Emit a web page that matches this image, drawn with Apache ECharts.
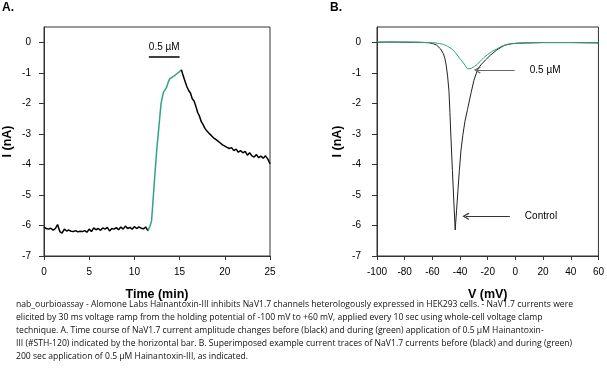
<!DOCTYPE html>
<html><head><meta charset="utf-8">
<script src="https://cdn.jsdelivr.net/npm/echarts@6/dist/echarts.min.js"></script>
<style>html,body{margin:0;padding:0;background:#fff}#c{width:607px;height:373px}</style>
</head><body><div id="c"></div>
<script>
// ---- Panel A: time course ----
const preTime = [0,0.25,0.5,0.75,1,1.25,1.5,1.75,2,2.25,2.5,2.75,3,3.25,3.5,3.75,4,4.25,4.5,4.75,5,5.25,5.5,5.75,6,6.25,6.5,6.75,7,7.25,7.5,7.75,8,8.25,8.5,8.75,9,9.25,9.5,9.75,10,10.25,10.5,10.75,11,11.25,11.5];
const preCurrent = [-6.05,-6.10,-6.12,-6.09,-6.15,-6.10,-5.97,-6.20,-6.25,-6.12,-6.18,-6.15,-6.19,-6.20,-6.17,-6.21,-6.19,-6.20,-6.17,-6.22,-6.12,-6.20,-6.08,-6.14,-6.10,-6.16,-6.08,-6.12,-6.06,-6.18,-6.10,-6.12,-6.07,-6.14,-6.05,-6.12,-6.02,-6.10,-6.06,-6.12,-6.04,-6.10,-6.05,-6.09,-6.11,-6.05,-6.18];
const drugTime = [11.5,11.75,11.9,12.2,12.45,12.7,12.95,13.2,13.4,13.55,13.75,13.9,14.1,14.4,14.7,15.0,15.2];
const drugCurrent = [-6.18,-6.0,-5.85,-4.6,-3.6,-2.8,-2.0,-1.65,-1.6,-1.48,-1.3,-1.2,-1.17,-1.1,-1.03,-0.96,-0.9];
const washTime = [15.2,15.4,15.6,15.8,16.0,16.2,16.4,16.6,16.8,17.0,17.2,17.4,17.6,17.8,18.0,18.25,18.5,18.75,19.0,19.25,19.5,19.75,20.0,20.25,20.5,20.75,21.0,21.25,21.5,21.75,22.0,22.25,22.5,22.75,23.0,23.25,23.5,23.75,24.0,24.25,24.5,24.75,25.0];
const washCurrent = [-0.9,-1.1,-1.28,-1.45,-1.58,-1.66,-1.85,-1.92,-2.1,-2.3,-2.42,-2.6,-2.7,-2.82,-2.9,-2.98,-3.05,-3.13,-3.18,-3.24,-3.3,-3.36,-3.4,-3.44,-3.48,-3.45,-3.55,-3.5,-3.6,-3.55,-3.62,-3.57,-3.7,-3.62,-3.72,-3.76,-3.68,-3.78,-3.73,-3.8,-3.72,-3.82,-3.98];
const barTime = [11.6, 15.0];
const barLevel = -0.49;
const barLabel = '0.5 µM';

// ---- Panel B: I-V traces ----
const controlV = [-100,-90,-80,-70,-65,-62,-60,-57,-54,-52,-51,-50,-49,-48,-47.3,-46.5,-45.5,-44.5,-43.5,-42.5,-41.5,-40.5,-39.3,-38,-36.5,-34.6,-32,-30,-27.5,-25,-21.6,-18,-13.4,-8,-3,2,20,40,60];
const controlI = [0,0.01,0,0,-0.01,-0.02,-0.04,-0.09,-0.22,-0.38,-0.52,-0.75,-1.1,-1.6,-2.3,-3.2,-4.2,-5.2,-6.15,-5.5,-4.85,-4.2,-3.53,-3.05,-2.6,-2.2,-1.65,-1.25,-0.92,-0.74,-0.58,-0.42,-0.25,-0.1,-0.05,-0.03,-0.01,-0.01,-0.02];
const toxinV = [-100,-90,-80,-70,-62,-58,-55,-52,-49,-46,-43.5,-41.5,-39.5,-37.5,-36,-34.6,-33.4,-32,-30,-27.5,-25,-22.8,-20,-17,-13.4,-10,-6,-2,5,20,40,60];
const toxinI = [0.01,0,0.01,0,-0.01,-0.02,-0.04,-0.07,-0.13,-0.22,-0.33,-0.45,-0.57,-0.68,-0.78,-0.87,-0.89,-0.86,-0.8,-0.72,-0.6,-0.5,-0.4,-0.3,-0.22,-0.13,-0.07,-0.04,-0.02,-0.01,-0.01,-0.02];
const toxinArrow = {fromV: -0.5, toV: -27.5, level: -0.91, text: '0.5 µM'};
const controlArrow = {fromV: -4, toV: -35.8, level: -5.7, text: 'Control'};

// ---- Ticks ----
const yTicks = [-7,-6,-5,-4,-3,-2,-1,0];
const timeTicks = [0,5,10,15,20,25];
const voltTicks = [-100,-80,-60,-40,-20,0,20,40,60];

const captionLines = [
 'nab_ourbioassay - Alomone Labs Hainantoxin-III inhibits NaV1.7 channels heterologously expressed in HEK293 cells. - NaV1.7 currents were',
 'elicited by 30 ms voltage ramp from the holding potential of -100 mV to +60 mV, applied every 10 sec using whole-cell voltage clamp',
 'technique. A. Time course of NaV1.7 current amplitude changes before (black) and during (green) application of 0.5 µM Hainantoxin-',
 'III (#STH-120) indicated by the horizontal bar. B. Superimposed example current traces of NaV1.7 currents before (black) and during (green)',
 '200 sec application of 0.5 µM Hainantoxin-III, as indicated.'
];

const zip = (a, b) => a.map((v, i) => [v, b[i]]);
const SANS = "'Liberation Sans',Arial,sans-serif";
const GREEN = '#2fa388';
const AXC = '#333';
const chevron = 'path://M5,0L10,8.6L8.8,10L5,3.4L1.2,10L0,8.6Z';

function xAx(idx, min, max, interval, name, ticks) {
  return {
    type: 'value', gridIndex: idx, min, max, interval,
    name, nameLocation: 'middle', nameGap: 32,
    nameTextStyle: {fontFamily: SANS, fontWeight: 'bold', fontSize: 12.5, color: '#000'},
    axisLine: {show: true, onZero: false, lineStyle: {color: AXC}},
    axisTick: {show: true, length: 4, lineStyle: {color: AXC}, customValues: ticks},
    axisLabel: {fontFamily: SANS, fontSize: 10, color: '#000', margin: 11, customValues: ticks},
    splitLine: {show: false}
  };
}
function yAx(idx, margin, gap) {
  return {
    type: 'value', gridIndex: idx, min: -7, max: 0.5, interval: 1,
    name: 'I (nA)', nameLocation: 'middle', nameGap: gap, nameRotate: 90,
    nameTextStyle: {fontFamily: SANS, fontWeight: 'bold', fontSize: 12.5, color: '#000'},
    axisLine: {show: true, onZero: false, lineStyle: {color: AXC}},
    axisTick: {show: true, length: 5, lineStyle: {color: AXC}, customValues: yTicks},
    axisLabel: {fontFamily: SANS, fontSize: 10, color: '#000', margin, customValues: yTicks},
    splitLine: {show: false}
  };
}

const chart = echarts.init(document.getElementById('c'), null, {renderer: 'canvas'});
chart.setOption({
  animation: false,
  backgroundColor: '#fff',
  grid: [
    {left: 44, top: 27, width: 226, height: 229, show: true, borderColor: AXC, borderWidth: 1, containLabel: false},
    {left: 377, top: 27, width: 227, height: 229, show: true, borderColor: AXC, borderWidth: 1, containLabel: false}
  ],
  xAxis: [
    xAx(0, 0, 25, 5, 'Time (min)', timeTicks),
    xAx(1, -100, 60, 20, 'V (mV)', voltTicks)
  ],
  yAxis: [yAx(0, 13, 30), yAx(1, 16, 33)],
  series: [
    {type: 'line', xAxisIndex: 0, yAxisIndex: 0, data: zip(preTime, preCurrent), showSymbol: false,
     lineStyle: {color: '#000', width: 1.5}, itemStyle: {color: '#000'}},
    {type: 'line', xAxisIndex: 0, yAxisIndex: 0, data: zip(drugTime, drugCurrent), showSymbol: false,
     lineStyle: {color: GREEN, width: 1.5}, itemStyle: {color: GREEN},
     markLine: {silent: true, symbol: ['none', 'none'], animation: false,
       lineStyle: {color: '#000', width: 1.5, type: 'solid'},
       label: {show: true, position: 'middle', formatter: barLabel, color: '#000', fontFamily: SANS, fontSize: 10, distance: 5},
       data: [[{coord: [barTime[0], barLevel]}, {coord: [barTime[1], barLevel]}]]}},
    {type: 'line', xAxisIndex: 0, yAxisIndex: 0, data: zip(washTime, washCurrent), showSymbol: false,
     lineStyle: {color: '#000', width: 1.5}, itemStyle: {color: '#000'}},
    {type: 'line', xAxisIndex: 1, yAxisIndex: 1, data: zip(controlV, controlI), showSymbol: false,
     lineStyle: {color: '#222', width: 1}, itemStyle: {color: '#222'},
     markLine: {silent: true, animation: false, symbol: ['none', chevron], symbolSize: [7, 7],
       lineStyle: {color: '#333', width: 1, type: 'solid'},
       label: {show: true, position: 'start', formatter: controlArrow.text, color: '#000', fontFamily: SANS, fontSize: 10, distance: 15},
       data: [[{coord: [controlArrow.fromV, controlArrow.level]}, {coord: [controlArrow.toV, controlArrow.level]}]]}},
    {type: 'line', xAxisIndex: 1, yAxisIndex: 1, data: zip(toxinV, toxinI), showSymbol: false,
     lineStyle: {color: GREEN, width: 1}, itemStyle: {color: GREEN},
     markLine: {silent: true, animation: false, symbol: ['none', chevron], symbolSize: [7, 7],
       lineStyle: {color: '#666', width: 1, type: 'solid'},
       label: {show: true, position: 'start', formatter: toxinArrow.text, color: '#000', fontFamily: SANS, fontSize: 10, distance: 15},
       data: [[{coord: [toxinArrow.fromV, toxinArrow.level]}, {coord: [toxinArrow.toV, toxinArrow.level]}]]}}
  ],
  graphic: [
    {type: 'text', left: 2, top: 2, style: {text: 'A.', font: "bold 12px 'Liberation Sans', Arial, sans-serif", fill: '#000'}},
    {type: 'text', left: 330, top: 2, style: {text: 'B.', font: "bold 12px 'Liberation Sans', Arial, sans-serif", fill: '#000'}},
    {type: 'text', left: 16, top: 298, style: {text: captionLines.join('\n'), fontFamily: "'Open Sans','Noto Sans',sans-serif", fontSize: 8.6, lineHeight: 13, fill: '#111'}}
  ]
});
</script>
</body></html>
